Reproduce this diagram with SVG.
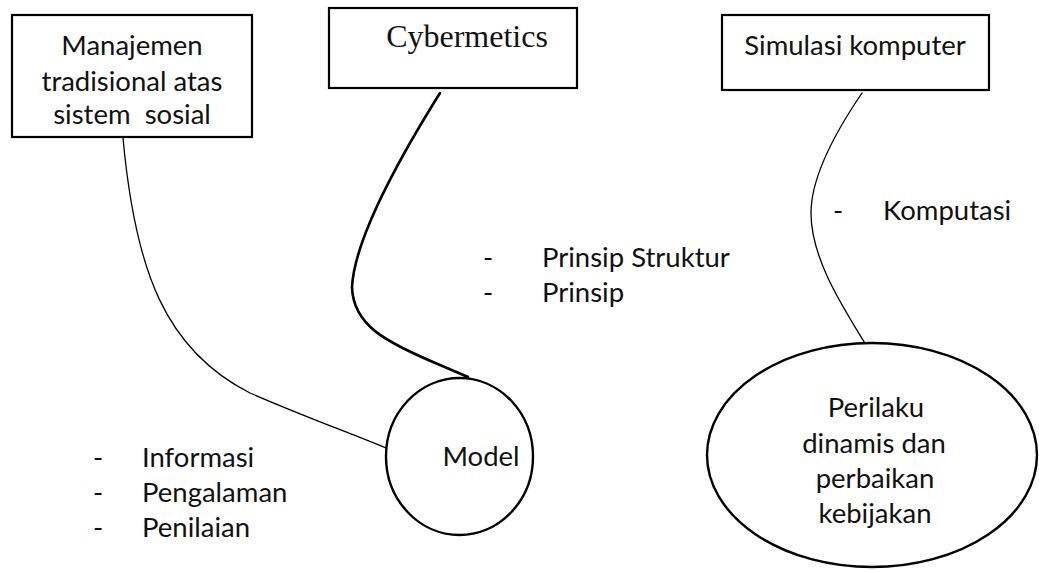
<svg xmlns="http://www.w3.org/2000/svg" width="1039" height="572" viewBox="0 0 1039 572">
  <style>
    .box { fill: #ffffff; stroke: #000000; stroke-width: 2.2; }
    .oval { fill: #ffffff; stroke: #000000; stroke-width: 2.4; }
    .lbl { font-family: Lato, "Liberation Sans", sans-serif; font-size: 27.5px; fill: #111111; }
    .mid { text-anchor: middle; }
    .serif { font-family: "Liberation Serif", "Times New Roman", serif; font-size: 32px; fill: #111111; }
    .wire { fill: none; stroke: #000000; stroke-linecap: round; }
    .thin { stroke-width: 1.3; }
    .thick { stroke-width: 2.6; }
  </style>
  <rect width="1039" height="572" fill="#ffffff"/>

  <!-- connectors -->
  <g id="connectors">
    <path class="wire thin" d="M123,138 C135,270 165,350 250,393 C300,415 350,433 386,448"/>
    <path class="wire thick" d="M440,93 C420,125 355,230 352,287 C353,325 385,342 440,365 L468,377"/>
    <path class="wire thin" d="M862,93 C830,140 811,180 811,213 C811,260 845,310 866,345"/>
  </g>

  <g id="node-manajemen">
    <rect class="box" x="12" y="15" width="240" height="122"/>
    <text class="lbl mid" x="132" y="55">Manajemen</text>
    <text class="lbl mid" x="132" y="91">tradisional atas</text>
    <text class="lbl mid" x="132" y="124" xml:space="preserve">sistem  sosial</text>
  </g>

  <g id="node-cybermetics">
    <rect class="box" x="329" y="8" width="248" height="80"/>
    <text class="serif mid" x="467" y="47">Cybermetics</text>
  </g>

  <g id="node-simulasi">
    <rect class="box" x="722" y="15" width="267" height="75"/>
    <text class="lbl mid" x="855" y="55">Simulasi komputer</text>
  </g>

  <g id="node-model">
    <ellipse class="oval" cx="459.5" cy="456.5" rx="73.5" ry="78.5"/>
    <text class="lbl mid" x="481" y="466">Model</text>
  </g>

  <g id="node-perilaku">
    <ellipse class="oval" cx="872" cy="455" rx="165" ry="112"/>
    <text class="lbl mid" x="876" y="417">Perilaku</text>
    <text class="lbl mid" x="874" y="453">dinamis dan</text>
    <text class="lbl mid" x="875" y="488">perbaikan</text>
    <text class="lbl mid" x="875" y="523">kebijakan</text>
  </g>

  <!-- bullet notes -->
  <g id="notes-manajemen">
    <text class="lbl" x="93" y="467">-</text>
    <text class="lbl" x="142" y="467">Informasi</text>
    <text class="lbl" x="93" y="502">-</text>
    <text class="lbl" x="142" y="502">Pengalaman</text>
    <text class="lbl" x="93" y="537">-</text>
    <text class="lbl" x="142" y="537">Penilaian</text>
  </g>
  <g id="notes-cybermetics">
    <text class="lbl" x="483" y="267">-</text>
    <text class="lbl" x="542" y="267">Prinsip Struktur</text>
    <text class="lbl" x="483" y="302">-</text>
    <text class="lbl" x="542" y="302">Prinsip</text>
  </g>
  <g id="notes-simulasi">
    <text class="lbl" x="833" y="220">-</text>
    <text class="lbl" x="883" y="220">Komputasi</text>
  </g>
</svg>
